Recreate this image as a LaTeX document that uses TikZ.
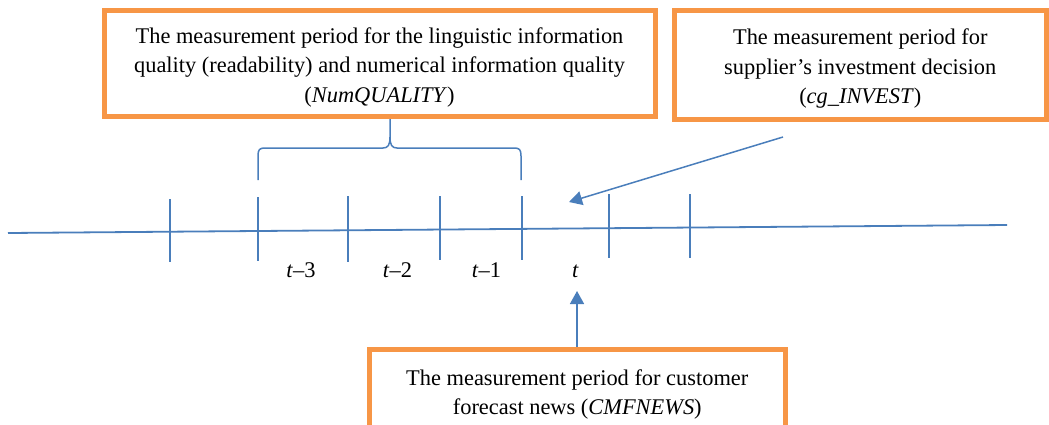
\documentclass[tikz,border=0pt]{standalone}
\usepackage{fontspec}
\setmainfont{Liberation Serif}
\usetikzlibrary{arrows.meta,calc}
\definecolor{boxorange}{HTML}{F79646}
\definecolor{lineblue}{HTML}{4A7EBB}
\newcommand{\toppad}{\rule{0pt}{23.5pt}}
\tikzset{
  periodbox/.style={draw=boxorange, line width=5pt, rectangle, align=center,
    inner sep=0pt, font=\fontsize{22.4}{29.5}\selectfont},
  timeline/.style={draw=lineblue, line width=1.8pt},
  tick/.style={draw=lineblue, line width=1.3pt},
  bracket/.style={draw=lineblue, line width=1.5pt},
  pointer/.style={draw=lineblue, line width=1.5pt,
    -{Triangle[length=13pt,width=14pt]}, fill=lineblue},
  period/.style={font=\fontsize{22.4}{26}\selectfont, anchor=base}
}
\begin{document}
\begin{tikzpicture}[x=1pt,y=-1pt]
\useasboundingbox (0,0) rectangle (1049,424);

% boxes describing the measurement windows
\node[periodbox, minimum width=551pt, minimum height=106.5pt] (quality) at (379.5,63.25)
  {\toppad The measurement period for the linguistic information\\
   quality (readability) and numerical information quality\\
   (\textit{NumQUALITY})};
\node[periodbox, minimum width=371.5pt, minimum height=109pt] (invest) at (860.25,65)
  {\toppad The measurement period for\\
   supplier’s investment decision\\
   (\textit{cg\_INVEST})};
\node[periodbox, minimum width=415.5pt, minimum height=108pt] (news) at (577.25,403)
  {\toppad The measurement period for customer\\
   forecast news (\textit{CMFNEWS})\\
   \mbox{}};

% time axis
\coordinate (axisL) at (8,233);
\coordinate (axisR) at (1007,225);
\draw[timeline] (axisL) -- (axisR);

% period boundaries
\foreach \x/\ya/\yb [count=\i] in {170/199/262, 258/197/261, 348/196/262, 440/196/260,
                                   522/196/260, 609/194/258, 690/194/258}{
  \coordinate (tickT\i) at (\x,\ya);
  \coordinate (tickB\i) at (\x,\yb);
  \draw[tick] (tickT\i) -- (tickB\i);
}

% period labels
\node[period] (lab3) at (301,277) {\textit{t}–3};
\node[period] (lab2) at (397.5,277) {\textit{t}–2};
\node[period] (lab1) at (486.5,277) {\textit{t}–1};
\node[period] (lab0) at (575.5,277) {\textit{t}};

% brace grouping t-3 .. t-1
\coordinate (braceL) at (258,180);
\coordinate (braceR) at (521,180);
\coordinate (braceTip) at (390,119);
\draw[bracket] (braceL) -- (258,156) .. controls (258,149.5) and (259.5,148) .. (265,148)
  -- (383,148) .. controls (388,148) and (390,145) .. (390,137) -- (braceTip);
\draw[bracket] (braceR) -- (521,156) .. controls (521,149.5) and (519.5,148) .. (514,148)
  -- (397,148) .. controls (392,148) and (390,145) .. (390,137);

% pointers to period t
\coordinate (investTail) at (783,137);
\coordinate (investHead) at (569,202);
\draw[pointer] (investTail) -- (investHead);
\coordinate (newsHead) at (577,291);
\draw[pointer] (news.north -| newsHead) -- (newsHead);
\end{tikzpicture}
\end{document}
